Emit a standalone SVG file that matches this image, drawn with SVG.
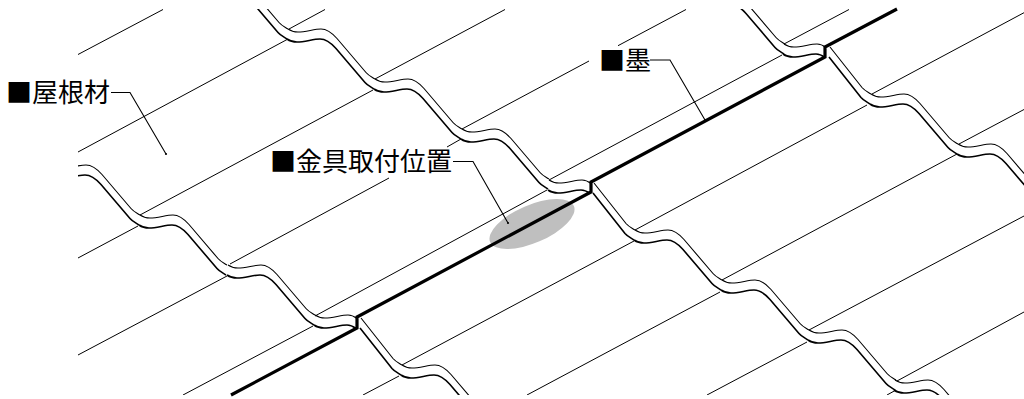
<svg xmlns="http://www.w3.org/2000/svg" width="1024" height="399" viewBox="0 0 1024 399">
<style>
.t{stroke:#000;stroke-width:1;fill:none}
.u{stroke:#000;stroke-width:1.1;fill:none}
.l{stroke:#000;stroke-width:1.6;fill:none}
.ink{stroke:#000;stroke-width:3.200;fill:none;stroke-linejoin:miter}
.ld{stroke:#000;stroke-width:1.1;fill:none;marker-end:url(#dot)}
text{font-family:"Noto Sans CJK JP","Liberation Sans",sans-serif;font-size:26px;fill:#000}
</style>
<defs>
<clipPath id="c"><rect x="78" y="9" width="946" height="386"/></clipPath>
<marker id="dot" markerUnits="userSpaceOnUse" markerWidth="4" markerHeight="4" refX="2" refY="2"><circle cx="2" cy="2" r="1.100" fill="#000"/></marker>
<path id="w" d="M0 0C2.500 1.800 6 3 10 3C18 3 26 0 33 0C40 0 45 5 49 9.500L78 43.500C80.500 46.500 84 48 87 50"/>
<path id="e" d="M0 0C2.500 1.800 6 3 10 3C18 3 26 0 33 0C37 0 40 2 42 3.500"/>
<path id="s" d="M-41-47L-9-6.500C-6.500-3.500-3-2 0 0"/>
</defs>
<rect width="1024" height="399" fill="#fff"/>
<ellipse id="mount-area" cx="532" cy="224" rx="45.600" ry="18.900" transform="rotate(-23.300 532 224)" fill="#bfbfbf"/>
<g id="roof" clip-path="url(#c)">
<g id="seams" class="t">
<path d="M78 54.500L163 9.500M78 152L288 39M289 29L325 9.500M78 258L138 226M140 215L373 90M375 79L505 9.500M78 355L227 276M230 264L389 178M447 147L461 139M462 129L589 61M618 45.700L686 9.500M183 395L313 326M315 316L547 190M549 180L782 55M784 44L849 9.500M363 395L399 376M402 365L634 241M635 230L867 105M872 94L1024 12.700M527 395L720 292M722 280L957 154M959 144L1024 109.500M707 395L807 342M809 330L1024 216M887 395L896 390M897 381L1024 312"/>
</g>
<g id="waves-upper" class="u">
<use href="#w" x="201" y="-21"/><use href="#w" x="288" y="29"/><use href="#w" x="375" y="79"/><use href="#w" x="462" y="129"/><use href="#e" x="549" y="180"/>
<use href="#s" x="635" y="230"/><use href="#w" x="635" y="230"/><use href="#w" x="722" y="280"/><use href="#w" x="809" y="330"/><use href="#w" x="895" y="380"/>
<use href="#w" x="53" y="165"/><use href="#w" x="140" y="215"/><use href="#w" x="228" y="265"/><use href="#e" x="315" y="315"/>
<use href="#s" x="402" y="365"/><use href="#w" x="402" y="365"/>
<use href="#w" x="698" y="-6"/><use href="#e" x="784" y="44"/><use href="#s" x="871" y="94"/><use href="#w" x="871" y="94"/><use href="#w" x="958" y="144"/>
</g>
<g id="waves-lower" class="l" transform="translate(-1 10)">
<use href="#w" x="201" y="-21"/><use href="#w" x="288" y="29"/><use href="#w" x="375" y="79"/><use href="#w" x="462" y="129"/><use href="#e" x="549" y="180"/>
<use href="#s" x="635" y="230"/><use href="#w" x="635" y="230"/><use href="#w" x="722" y="280"/><use href="#w" x="809" y="330"/><use href="#w" x="895" y="380"/>
<use href="#w" x="53" y="165"/><use href="#w" x="140" y="215"/><use href="#w" x="228" y="265"/><use href="#e" x="315" y="315"/>
<use href="#s" x="402" y="365"/><use href="#w" x="402" y="365"/>
<use href="#w" x="698" y="-6"/><use href="#e" x="784" y="44"/><use href="#s" x="871" y="94"/><use href="#w" x="871" y="94"/><use href="#w" x="958" y="144"/>
</g>
</g>
<path id="ink-line" class="ink" d="M231 395L357 328V317L591 192V182L825 57V47L897 9"/>
<g id="connectors" class="ld">
<path d="M111 92.500H130L166 154"/>
<path d="M453 161.500H473L508 223"/>
<path d="M650 60H670L705 120"/>
</g>
<g id="label-roof"><text x="6" y="102">■屋根材</text></g>
<g id="label-mount"><text x="270" y="171">■金具取付位置</text></g>
<g id="label-ink"><text x="599" y="70">■墨</text></g>
</svg>
